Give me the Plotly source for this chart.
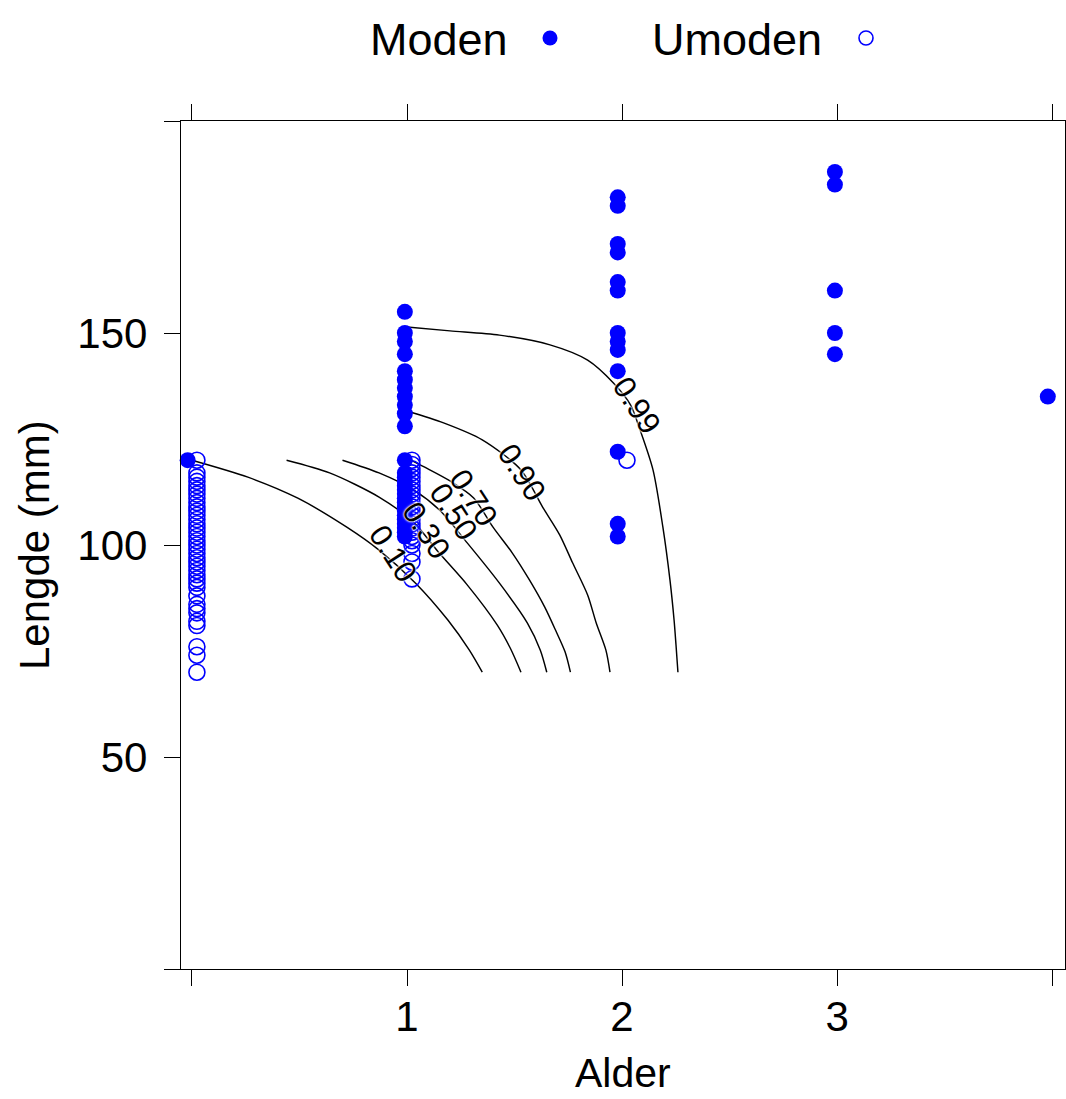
import plotly.graph_objects as go

# ---- observations: fish length (mm) by age, mature vs. immature ----
ages = [0, 1, 2, 3, 4]
moden_jitter = [-0.02, -0.01, -0.02, -0.01, -0.02]
umoden_jitter = [0.023, 0.023, 0.023, 0.023, 0.023]

moden_age0 = [120]
moden_age1 = [155, 150, 148, 145, 141, 139, 137, 135, 133, 131, 128,
              120, 117, 116, 115, 114, 113, 112, 111, 110, 109, 108, 107,
              106, 105, 104, 103, 102]
moden_age2 = [182, 180, 171, 169, 162, 160, 150, 148, 146, 141, 122, 105, 102]
moden_age3 = [188, 185, 160, 150, 145]
moden_age4 = [135]

umoden_age0 = [120, 117, 116, 115, 114, 113, 112, 111, 110, 109, 108, 107,
               106, 105, 104, 103, 102, 101, 100, 99, 98, 97, 96, 95, 94, 93,
               92, 91, 90, 88, 86, 85, 84, 82, 81, 76, 74, 70]
umoden_age1 = [120, 119, 118, 117, 116, 115, 114, 113, 112, 111, 110, 109,
               108, 107, 106, 105, 104, 103, 102, 101, 100, 98, 96, 92]
umoden_age2 = [120]
umoden_age3 = []
umoden_age4 = []

moden_by_age = [moden_age0, moden_age1, moden_age2, moden_age3, moden_age4]
umoden_by_age = [umoden_age0, umoden_age1, umoden_age2, umoden_age3, umoden_age4]

# ---- fitted maturity-probability contours (Alder, Lengde) ----
contour_levels = ["0.10", "0.30", "0.50", "0.70", "0.90", "0.99"]
c010_x = [0.00, 0.26, 0.49, 0.72, 0.87, 1.04, 1.19, 1.29, 1.35]
c010_y = [120.0, 116.0, 111.1, 104.2, 98.8, 91.0, 82.3, 75.2, 70.0]
c030_x = [0.44, 0.64, 0.87, 1.03, 1.15, 1.28, 1.42, 1.48, 1.53]
c030_y = [120.0, 117.0, 111.3, 105.4, 98.1, 90.6, 81.1, 75.7, 70.0]
c050_x = [0.70, 0.87, 1.03, 1.15, 1.28, 1.43, 1.56, 1.62, 1.65]
c050_y = [120.0, 117.0, 113.0, 108.3, 100.5, 91.0, 81.6, 75.2, 70.0]
c070_x = [1.00, 1.08, 1.20, 1.31, 1.40, 1.49, 1.57, 1.64, 1.69, 1.735, 1.76]
c070_y = [120.5, 118.4, 115.1, 111.1, 104.2, 98.1, 91.7, 85.4, 80.0, 74.8, 70.0]
c090_x = [1.00, 1.17, 1.35, 1.53, 1.63, 1.71, 1.77, 1.84, 1.88, 1.925, 1.944]
c090_y = [131.6, 128.8, 124.8, 117.7, 109.0, 102.4, 95.8, 88.2, 81.6, 75.2, 70.0]
c099_x = [1.00, 1.20, 1.43, 1.665, 1.84, 1.96, 2.04, 2.084, 2.144, 2.19,
          2.223, 2.242, 2.251, 2.26]
c099_y = [151.4, 150.5, 149.5, 147.2, 143.6, 138.2, 133.0, 127.1, 117.7,
          104.2, 91.7, 82.3, 76.4, 70.0]
contour_x = [c010_x, c030_x, c050_x, c070_x, c090_x, c099_x]
contour_y = [c010_y, c030_y, c050_y, c070_y, c090_y, c099_y]

# label anchor on each contour (Alder, Lengde)
label_x = [0.935, 1.09, 1.215, 1.31, 1.535, 2.07]
label_y = [98.0, 103.4, 107.8, 111.3, 117.2, 133.0]

x_tickvals = [0, 1, 2, 3, 4]
x_ticktext = ["", "1", "2", "3", ""]
y_tickvals = [0, 50, 100, 150, 200]
y_ticktext = ["", "50", "100", "150", ""]

BLUE = "#0000FF"
FONT = "Liberation Sans, Arial, sans-serif"

W, H = 1066, 1099
L, R, T, B = 181, 1, 121, 130
pw, ph = W - L - R, H - T - B


def px_to_paper_x(px):
    return (px - L) / pw


def py_to_paper_y(py):
    return (H - B - py) / ph


fig = go.Figure()

for cx, cy in zip(contour_x, contour_y):
    fig.add_trace(go.Scatter(
        x=cx, y=cy, mode="lines",
        line=dict(color="black", width=1.45, shape="spline", smoothing=0.8),
        hoverinfo="skip", showlegend=False,
    ))

mx, my, ux, uy = [], [], [], []
for a, jm, ju, ml, ul in zip(ages, moden_jitter, umoden_jitter,
                             moden_by_age, umoden_by_age):
    mx += [a + jm] * len(ml)
    my += ml
    ux += [a + ju] * len(ul)
    uy += ul

fig.add_trace(go.Scatter(
    x=ux, y=uy, mode="markers", name="Umoden", cliponaxis=False,
    marker=dict(symbol="circle-open", size=16, color=BLUE,
                line=dict(width=1.6, color=BLUE)),
    showlegend=False,
))
fig.add_trace(go.Scatter(
    x=mx, y=my, mode="markers", name="Moden", cliponaxis=False,
    marker=dict(symbol="circle", size=16, color=BLUE, line=dict(width=0)),
    showlegend=False,
))

halo = "0 0 2px white, 0 0 2px white, 0 0 3px white"
for lev, lx, ly in zip(contour_levels, label_x, label_y):
    fig.add_annotation(
        x=lx, y=ly, xref="x", yref="y", text=lev, showarrow=False,
        textangle=57, xanchor="center", yanchor="middle",
        font=dict(family=FONT, size=31, color="black", shadow=halo),
    )

# key at the top: text followed by its symbol
key_font = dict(family=FONT, size=45, color="black")
fig.add_annotation(x=px_to_paper_x(368), y=py_to_paper_y(39), xref="paper",
                   yref="paper", text="Moden", showarrow=False,
                   xanchor="left", yanchor="middle", font=key_font)
fig.add_annotation(x=px_to_paper_x(650), y=py_to_paper_y(39), xref="paper",
                   yref="paper", text="Umoden", showarrow=False,
                   xanchor="left", yanchor="middle", font=key_font)

fig.add_shape(type="circle", xref="paper", yref="paper",
              xsizemode="pixel", ysizemode="pixel",
              xanchor=px_to_paper_x(550), yanchor=py_to_paper_y(38),
              x0=-7.5, x1=7.5, y0=-7.5, y1=7.5,
              fillcolor=BLUE, line=dict(color=BLUE, width=0))
fig.add_shape(type="circle", xref="paper", yref="paper",
              xsizemode="pixel", ysizemode="pixel",
              xanchor=px_to_paper_x(866), yanchor=py_to_paper_y(38),
              x0=-7, x1=7, y0=-7, y1=7,
              fillcolor="rgba(0,0,0,0)", line=dict(color=BLUE, width=1.6))

# axis titles
fig.add_annotation(x=0.5, y=py_to_paper_y(1073), xref="paper", yref="paper",
                   text="Alder", showarrow=False, xanchor="center",
                   yanchor="middle",
                   font=dict(family=FONT, size=41, color="black"))
fig.add_annotation(x=px_to_paper_x(34), y=0.5, xref="paper", yref="paper",
                   text="Lengde (mm)", showarrow=False, textangle=-90,
                   xanchor="center", yanchor="middle",
                   font=dict(family=FONT, size=42, color="black"))

axis_common = dict(
    showgrid=False, zeroline=False, showline=True, linecolor="black",
    linewidth=1.4, mirror="ticks", ticks="outside", ticklen=16,
    tickwidth=1.4, tickcolor="black", automargin=False,
    tickfont=dict(family=FONT, size=42, color="black"),
)

fig.update_layout(
    width=W, height=H, autosize=False,
    margin=dict(l=L, r=R, t=T, b=B, pad=0, autoexpand=False),
    paper_bgcolor="white", plot_bgcolor="white",
    showlegend=False,
    xaxis=dict(range=[-0.051, 4.06], tickvals=x_tickvals,
               ticktext=x_ticktext, ticklabelstandoff=-6, **axis_common),
    yaxis=dict(range=[0, 200], tickvals=y_tickvals, ticktext=y_ticktext,
               ticklabelstandoff=8, **axis_common),
)

page_style = (
    "document.documentElement.style.overflow='hidden';"
    "document.body.style.margin='0';"
    "document.body.style.overflow='hidden';"
)

fig.write_html("out.html", config={"responsive": False},
               post_script=page_style)
